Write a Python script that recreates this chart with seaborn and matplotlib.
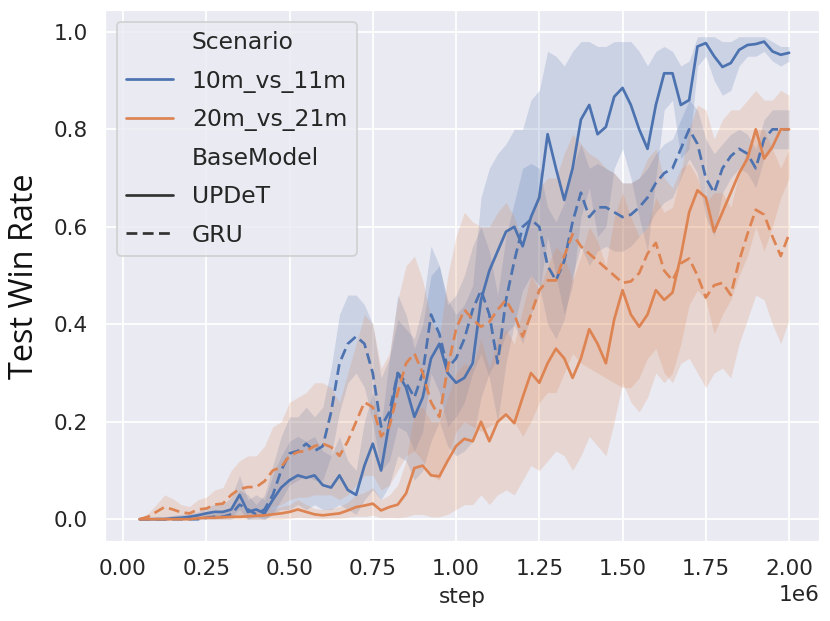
import numpy as np
import pandas as pd
import matplotlib
matplotlib.use('Agg')
import matplotlib.pyplot as plt
import seaborn as sns

# x grid: one point every 25k steps, 0.05e6 .. 2.0e6
steps = np.arange(50000, 2000001, 25000)

# 10m_vs_11m / UPDeT
upd10 = [0, 0, 0, 0, 0.002, 0.003, 0.005, 0.008, 0.012, 0.015,
         0.015, 0.02, 0.05, 0.015, 0.02, 0.012, 0.04, 0.065, 0.08, 0.09,
         0.085, 0.09, 0.07, 0.065, 0.09, 0.06, 0.05, 0.11, 0.155, 0.10,
         0.20, 0.30, 0.27, 0.21, 0.25, 0.33, 0.36, 0.30, 0.28, 0.29,
         0.32, 0.45, 0.51, 0.55, 0.59, 0.60, 0.56, 0.62, 0.66, 0.79,
         0.72, 0.655, 0.72, 0.82, 0.85, 0.79, 0.805, 0.867, 0.885, 0.85,
         0.80, 0.76, 0.85, 0.915, 0.915, 0.85, 0.86, 0.97, 0.977, 0.95,
         0.928, 0.936, 0.963, 0.973, 0.975, 0.98, 0.96, 0.953, 0.957]
upd10_lo = [0, 0, 0, 0, 0, 0, 0, 0, 0.003, 0.005,
            0.005, 0.005, 0.02, 0.0, 0.005, 0.0, 0.01, 0.02, 0.02, 0.03,
            0.02, 0.03, 0.02, 0.02, 0.03, 0.02, 0.01, 0.04, 0.06, 0.04,
            0.07, 0.13, 0.12, 0.08, 0.10, 0.16, 0.20, 0.15, 0.13, 0.14,
            0.16, 0.25, 0.30, 0.33, 0.38, 0.40, 0.36, 0.42, 0.46, 0.58,
            0.50, 0.42, 0.48, 0.62, 0.68, 0.58, 0.60, 0.72, 0.76, 0.70,
            0.62, 0.55, 0.70, 0.84, 0.86, 0.74, 0.76, 0.93, 0.95, 0.90,
            0.87, 0.88, 0.93, 0.95, 0.95, 0.96, 0.94, 0.93, 0.94]
upd10_hi = [0.002, 0.003, 0.005, 0.005, 0.008, 0.01, 0.012, 0.015, 0.025, 0.03,
            0.03, 0.045, 0.09, 0.04, 0.05, 0.04, 0.09, 0.13, 0.16, 0.17,
            0.16, 0.17, 0.14, 0.13, 0.17, 0.12, 0.10, 0.20, 0.26, 0.19,
            0.33, 0.46, 0.42, 0.35, 0.40, 0.50, 0.52, 0.45, 0.42, 0.44,
            0.48, 0.66, 0.72, 0.75, 0.77, 0.80, 0.80, 0.86, 0.88, 0.96,
            0.95, 0.93, 0.96, 0.98, 0.98, 0.97, 0.97, 0.98, 0.98, 0.98,
            0.96, 0.93, 0.96, 0.97, 0.96, 0.93, 0.94, 0.99, 0.99, 0.99,
            0.98, 0.98, 0.99, 0.99, 0.99, 0.99, 0.98, 0.97, 0.97]

# 10m_vs_11m / GRU
gru10 = [0, 0, 0, 0, 0, 0, 0, 0, 0.003, 0.005,
         0.005, 0.01, 0.03, 0.02, 0.01, 0.02, 0.05, 0.10, 0.135, 0.14,
         0.155, 0.14, 0.15, 0.22, 0.32, 0.36, 0.375, 0.36, 0.30, 0.19,
         0.22, 0.30, 0.28, 0.25, 0.30, 0.42, 0.38, 0.31, 0.33, 0.37,
         0.43, 0.47, 0.42, 0.32, 0.45, 0.53, 0.60, 0.615, 0.60, 0.52,
         0.49, 0.53, 0.61, 0.67, 0.62, 0.64, 0.64, 0.63, 0.62, 0.625,
         0.64, 0.66, 0.69, 0.71, 0.72, 0.76, 0.80, 0.77, 0.70, 0.67,
         0.72, 0.745, 0.76, 0.75, 0.72, 0.78, 0.80, 0.80, 0.80]
gru10_lo = [0, 0, 0, 0, 0, 0, 0, 0, 0, 0,
            0, 0, 0.01, 0, 0, 0, 0.01, 0.04, 0.07, 0.08,
            0.09, 0.08, 0.08, 0.13, 0.22, 0.28, 0.30, 0.27, 0.20, 0.10,
            0.12, 0.19, 0.18, 0.14, 0.18, 0.30, 0.26, 0.19, 0.21, 0.24,
            0.30, 0.34, 0.29, 0.20, 0.32, 0.40, 0.47, 0.50, 0.48, 0.40,
            0.37, 0.41, 0.50, 0.56, 0.52, 0.55, 0.56, 0.55, 0.55, 0.56,
            0.58, 0.60, 0.63, 0.65, 0.66, 0.70, 0.74, 0.71, 0.62, 0.58,
            0.67, 0.70, 0.72, 0.71, 0.68, 0.74, 0.76, 0.76, 0.76]
gru10_hi = [0.003, 0.003, 0.003, 0.003, 0.003, 0.003, 0.003, 0.003, 0.01, 0.012,
            0.015, 0.025, 0.06, 0.05, 0.03, 0.05, 0.11, 0.17, 0.21, 0.21,
            0.23, 0.21, 0.23, 0.31, 0.42, 0.46, 0.46, 0.44, 0.40, 0.29,
            0.33, 0.41, 0.39, 0.37, 0.44, 0.56, 0.52, 0.44, 0.46, 0.50,
            0.56, 0.60, 0.55, 0.46, 0.58, 0.65, 0.72, 0.73, 0.72, 0.64,
            0.61, 0.65, 0.72, 0.77, 0.72, 0.73, 0.72, 0.71, 0.69, 0.69,
            0.70, 0.72, 0.75, 0.77, 0.78, 0.82, 0.86, 0.84, 0.78, 0.75,
            0.77, 0.79, 0.80, 0.79, 0.76, 0.82, 0.84, 0.84, 0.84]

# 20m_vs_21m / UPDeT
upd20 = [0, 0, 0, 0, 0, 0, 0, 0.002, 0.003, 0.003,
         0.004, 0.005, 0.005, 0.006, 0.007, 0.008, 0.01, 0.012, 0.015, 0.02,
         0.015, 0.01, 0.008, 0.01, 0.012, 0.018, 0.025, 0.028, 0.032, 0.018,
         0.025, 0.03, 0.053, 0.105, 0.11, 0.09, 0.088, 0.12, 0.15, 0.165,
         0.16, 0.20, 0.16, 0.20, 0.215, 0.197, 0.25, 0.30, 0.28, 0.32,
         0.35, 0.33, 0.29, 0.33, 0.39, 0.36, 0.32, 0.41, 0.47, 0.42,
         0.395, 0.42, 0.47, 0.45, 0.465, 0.54, 0.63, 0.675, 0.66, 0.59,
         0.63, 0.67, 0.71, 0.74, 0.80, 0.74, 0.764, 0.80, 0.80]
upd20_lo = [0, 0, 0, 0, 0, 0, 0, 0, 0, 0,
            0, 0, 0, 0, 0, 0, 0, 0, 0.002, 0.004,
            0.003, 0.002, 0.001, 0.002, 0.002, 0.004, 0.006, 0.006, 0.008, 0.003,
            0.004, 0.003, 0.005, 0.01, 0.01, 0.005, 0.005, 0.01, 0.02, 0.03,
            0.03, 0.05, 0.03, 0.05, 0.06, 0.05, 0.08, 0.11, 0.10, 0.12,
            0.14, 0.13, 0.10, 0.13, 0.17, 0.15, 0.13, 0.20, 0.28, 0.24,
            0.22, 0.25, 0.30, 0.28, 0.30, 0.36, 0.44, 0.47, 0.45, 0.38,
            0.42, 0.45, 0.50, 0.54, 0.60, 0.55, 0.60, 0.66, 0.70]
upd20_hi = [0.002, 0.002, 0.003, 0.003, 0.004, 0.005, 0.006, 0.008, 0.009, 0.01,
            0.01, 0.011, 0.012, 0.014, 0.016, 0.018, 0.022, 0.026, 0.03, 0.04,
            0.03, 0.022, 0.02, 0.022, 0.026, 0.035, 0.05, 0.055, 0.065, 0.04,
            0.05, 0.07, 0.12, 0.22, 0.23, 0.20, 0.20, 0.25, 0.30, 0.32,
            0.31, 0.37, 0.31, 0.37, 0.39, 0.36, 0.43, 0.50, 0.47, 0.52,
            0.56, 0.54, 0.49, 0.54, 0.60, 0.57, 0.52, 0.62, 0.67, 0.62,
            0.58, 0.60, 0.66, 0.63, 0.64, 0.71, 0.80, 0.85, 0.84, 0.78,
            0.82, 0.84, 0.84, 0.86, 0.88, 0.86, 0.86, 0.88, 0.87]

# 20m_vs_21m / GRU
gru20 = [0, 0.005, 0.015, 0.025, 0.02, 0.014, 0.012, 0.02, 0.022, 0.03,
         0.032, 0.05, 0.062, 0.066, 0.066, 0.078, 0.10, 0.107, 0.13, 0.138,
         0.14, 0.15, 0.155, 0.148, 0.13, 0.16, 0.20, 0.24, 0.23, 0.17,
         0.19, 0.26, 0.32, 0.34, 0.30, 0.24, 0.21, 0.31, 0.39, 0.43,
         0.41, 0.395, 0.405, 0.43, 0.45, 0.42, 0.375, 0.42, 0.47, 0.49,
         0.49, 0.54, 0.585, 0.56, 0.545, 0.53, 0.515, 0.50, 0.485, 0.488,
         0.505, 0.545, 0.567, 0.51, 0.49, 0.525, 0.535, 0.50, 0.455, 0.48,
         0.485, 0.46, 0.53, 0.585, 0.635, 0.625, 0.58, 0.54, 0.585]
gru20_lo = [0, 0, 0, 0.003, 0.002, 0.001, 0.001, 0.002, 0.003, 0.005,
            0.005, 0.01, 0.012, 0.012, 0.012, 0.015, 0.025, 0.03, 0.04, 0.045,
            0.045, 0.05, 0.05, 0.05, 0.04, 0.05, 0.07, 0.09, 0.09, 0.06,
            0.07, 0.10, 0.13, 0.14, 0.12, 0.09, 0.08, 0.13, 0.18, 0.20,
            0.19, 0.18, 0.19, 0.20, 0.22, 0.20, 0.17, 0.20, 0.24, 0.26,
            0.26, 0.30, 0.34, 0.32, 0.31, 0.30, 0.29, 0.28, 0.27, 0.27,
            0.29, 0.33, 0.35, 0.30, 0.28, 0.32, 0.33, 0.30, 0.27, 0.30,
            0.31, 0.29, 0.36, 0.41, 0.46, 0.45, 0.40, 0.36, 0.41]
gru20_hi = [0.002, 0.012, 0.03, 0.05, 0.042, 0.03, 0.026, 0.04, 0.045, 0.06,
            0.065, 0.10, 0.12, 0.13, 0.13, 0.15, 0.19, 0.20, 0.24, 0.25,
            0.26, 0.28, 0.28, 0.27, 0.24, 0.30, 0.36, 0.42, 0.40, 0.31,
            0.34, 0.45, 0.52, 0.54, 0.49, 0.41, 0.37, 0.50, 0.58, 0.63,
            0.61, 0.60, 0.60, 0.63, 0.65, 0.62, 0.57, 0.62, 0.68, 0.70,
            0.70, 0.75, 0.79, 0.77, 0.75, 0.74, 0.72, 0.71, 0.69, 0.69,
            0.70, 0.74, 0.76, 0.70, 0.68, 0.72, 0.73, 0.70, 0.65, 0.67,
            0.67, 0.64, 0.71, 0.76, 0.80, 0.80, 0.76, 0.72, 0.76]

scenarios = ['10m_vs_11m', '20m_vs_21m']
models = ['UPDeT', 'GRU']
runs = {
    ('10m_vs_11m', 'UPDeT'): (upd10, upd10_lo, upd10_hi),
    ('10m_vs_11m', 'GRU'): (gru10, gru10_lo, gru10_hi),
    ('20m_vs_21m', 'UPDeT'): (upd20, upd20_lo, upd20_hi),
    ('20m_vs_21m', 'GRU'): (gru20, gru20_lo, gru20_hi),
}

frames = []
for (sc, bm), (mean, lo, hi) in runs.items():
    frames.append(pd.DataFrame({'step': steps, 'Test Win Rate': mean,
                                'lo': lo, 'hi': hi,
                                'Scenario': sc, 'BaseModel': bm}))
df = pd.concat(frames, ignore_index=True)

sns.set_theme(style='darkgrid')
plt.rcParams['xtick.labelsize'] = 12
plt.rcParams['ytick.labelsize'] = 12
plt.rcParams['legend.fontsize'] = 13

palette = dict(zip(scenarios, sns.color_palette('deep', 2)))

fig, ax = plt.subplots(figsize=(830 / 130, 621 / 130), dpi=130)
fig.subplots_adjust(left=0.1265, right=0.988, bottom=0.127, top=0.984)

# confidence bands
for (sc, bm), grp in df.groupby(['Scenario', 'BaseModel']):
    ax.fill_between(grp['step'], grp['lo'], grp['hi'],
                    color=palette[sc], alpha=0.2, linewidth=0)

sns.lineplot(data=df, x='step', y='Test Win Rate', hue='Scenario',
             style='BaseModel', hue_order=scenarios, style_order=models,
             palette=palette, dashes={'UPDeT': '', 'GRU': (4, 2)},
             errorbar=None, linewidth=1.5, ax=ax)

ax.set_xlim(-0.054e6, 2.093e6)
ax.set_ylim(-0.047, 1.045)
ax.set_xlabel('step', fontsize=12)
ax.set_ylabel('Test Win Rate', fontsize=18, labelpad=7, color='#111111',
              family=['Open Sans', 'DejaVu Sans'])
sns.move_legend(ax, 'upper left', fontsize=13, labelspacing=0.66)

fig.savefig('out.png', dpi=130)
